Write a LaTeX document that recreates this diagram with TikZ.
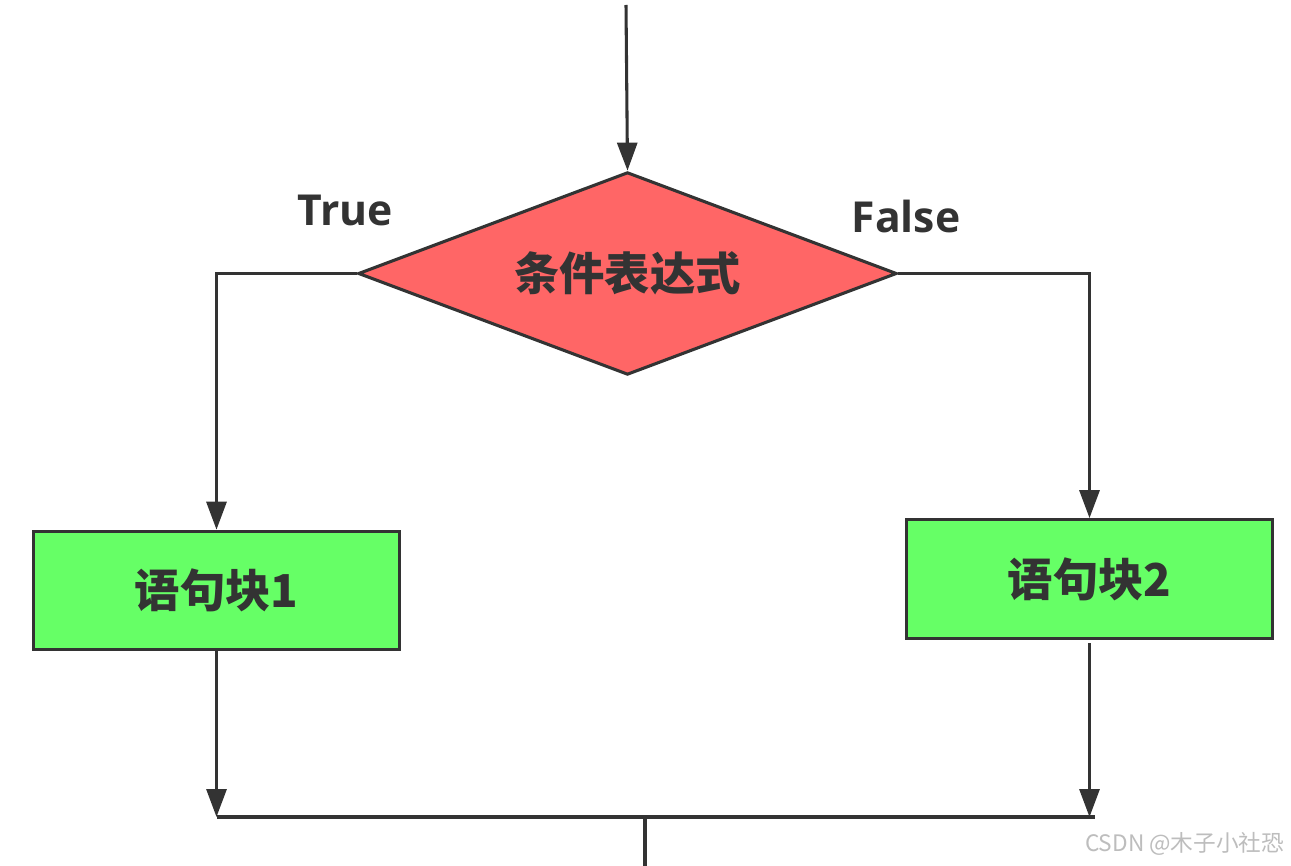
\documentclass[tikz,border=0pt]{standalone}
\usepackage{fontspec}
\setmainfont{Open Sans}
\newfontfamily\cjk{Noto Sans CJK SC}
\usetikzlibrary{shapes.geometric,arrows.meta}
\definecolor{linegray}{HTML}{333333}
\definecolor{condred}{HTML}{FF6666}
\definecolor{blockgreen}{HTML}{66FF66}
\definecolor{wmgray}{HTML}{BDBDBD}
\tikzset{
  conn/.style={draw=linegray, line width=2.3pt},
  arr/.style={conn, -{Triangle[width=15pt,length=21pt]}},
  cond/.style={diamond, aspect=2.655, draw=linegray, fill=condred, line width=2.3pt, inner sep=0pt,
    minimum width=404pt, minimum height=152pt, text=linegray,
    font=\cjk\bfseries\fontsize{34}{36}\selectfont},
  blockbox/.style={rectangle, draw=linegray, fill=blockgreen, line width=2.3pt,
    minimum width=275pt, minimum height=89pt, text=linegray,
    font=\cjk\bfseries\fontsize{34}{36}\selectfont},
  lbl/.style={text=linegray, font=\bfseries\fontsize{32}{36}\selectfont}
}
\begin{document}
\begin{tikzpicture}[x=0.75pt,y=-0.75pt]
\useasboundingbox (0,0) rectangle (1291,866);
\fill[white] (0,0) rectangle (1291,866);
\node[cond] (d) at (627.5,273.5) {条件表达式};
\node[blockbox] (b1) at (216.5,590.5) {语句块1};
\node[blockbox] (b2) at (1089.5,579) {语句块2};
\node[lbl] (t) at (345,210) {True};
\node[lbl] (f) at (906,217) {False};
\coordinate (start) at (626,5);
\coordinate (j1) at (216.5,817);
\coordinate (j2) at (1089.5,817);
\coordinate (jm) at (645,817);
\coordinate (end) at (645,866);
\coordinate (b2out) at (1089.5,643);
\draw[arr] (start) -- (d.north);
\draw[arr] (d.west) -| (b1.north);
\draw[arr] (d.east) -| (b2.north);
\draw[arr] (b1.south) -- (j1);
\draw[arr] (b2out) -- (j2);
\draw[conn] (j1) -- ([xshift=4]j2);
\draw[conn] (jm) -- (end);
\node[text=wmgray, font=\cjk\fontsize{17}{20}\selectfont, anchor=east] (wm) at (1289,844) {CSDN @木子小社恐};
\end{tikzpicture}
\end{document}
